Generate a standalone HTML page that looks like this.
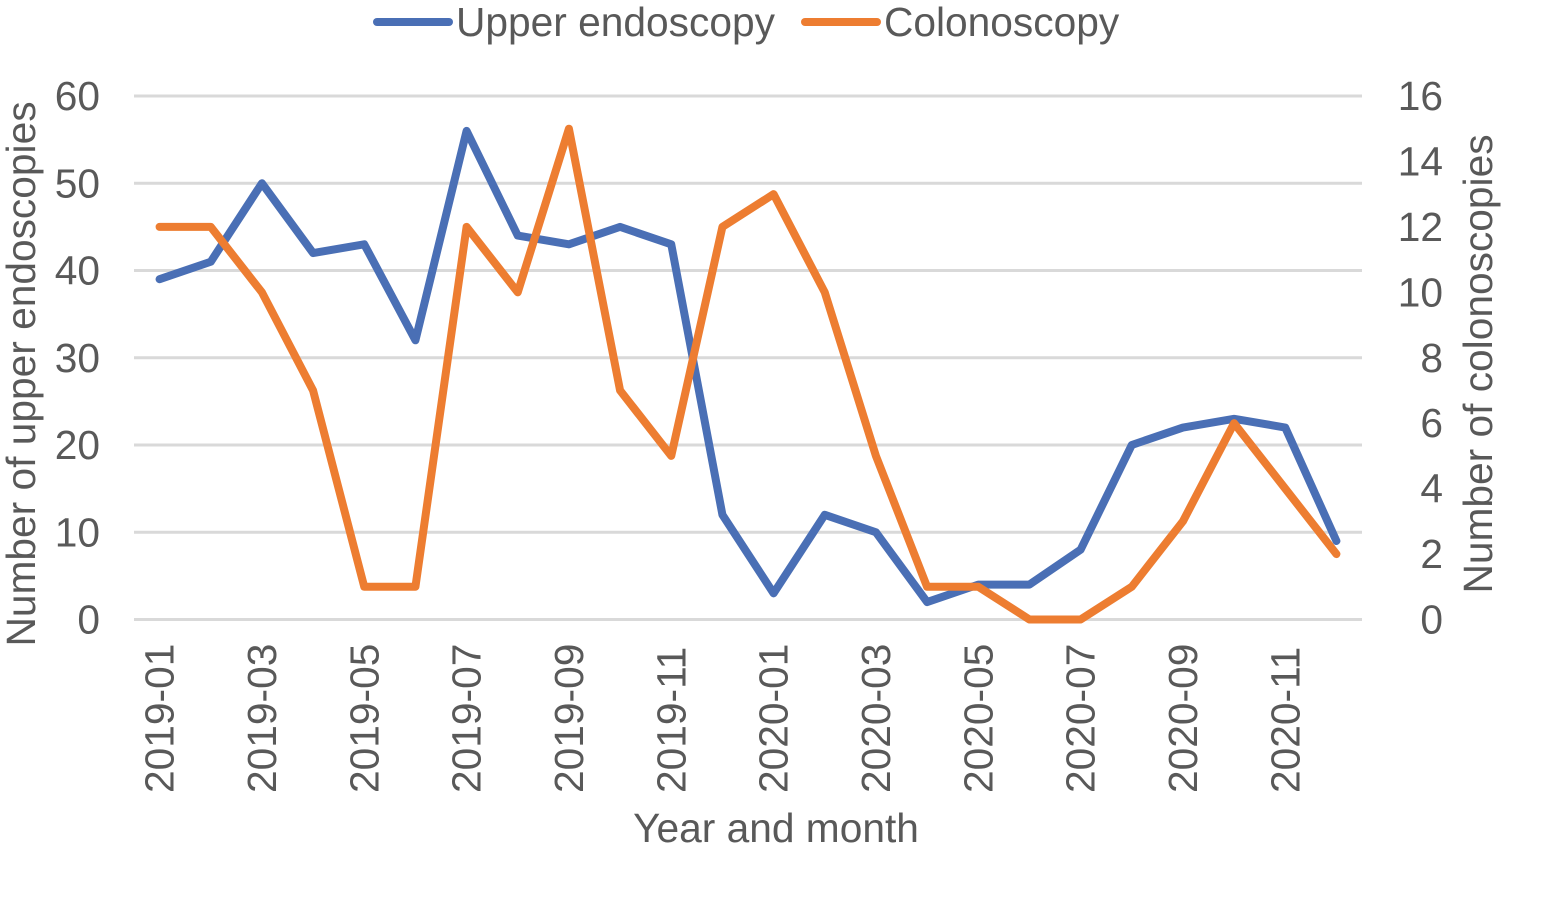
<!DOCTYPE html>
<html lang="en">
<head>
<meta charset="utf-8">
<title>Upper endoscopy and colonoscopy by month</title>
<style>
html,body{margin:0;padding:0;background:#fff;width:1553px;height:903px;overflow:hidden}
svg{display:block}
text{font-family:"Liberation Sans",Arial,sans-serif;fill:#595959;font-size:40.7px}
</style>
</head>
<body>
<svg id="chart" xmlns="http://www.w3.org/2000/svg" width="1553" height="903" viewBox="0 0 1553 903">
  <rect width="1553" height="903" fill="#ffffff"/>
  <g id="grid"></g>
  <g id="left-ticks"></g>
  <g id="right-ticks"></g>
  <g id="x-ticks"></g>
  <g id="series"></g>
  <text transform="translate(35 374) rotate(-90)" text-anchor="middle">Number of upper endoscopies</text>
  <text transform="translate(1492 364) rotate(-90)" text-anchor="middle">Number of colonoscopies</text>
  <text x="776" y="842" text-anchor="middle">Year and month</text>
  <g>
    <g>
      <line x1="377" y1="22" x2="449" y2="22" stroke="#4a6fb5" stroke-width="8" stroke-linecap="round"/>
      <text x="456" y="36">Upper endoscopy</text>
    </g>
    <g>
      <line x1="805" y1="22" x2="877" y2="22" stroke="#ed7d31" stroke-width="8" stroke-linecap="round"/>
      <text x="884" y="36">Colonoscopy</text>
    </g>
  </g>
</svg>
<script>
const months = ["2019-01","2019-02","2019-03","2019-04","2019-05","2019-06","2019-07","2019-08","2019-09","2019-10","2019-11","2019-12","2020-01","2020-02","2020-03","2020-04","2020-05","2020-06","2020-07","2020-08","2020-09","2020-10","2020-11","2020-12"];
const upperEndoscopy = [39,41,50,42,43,32,56,44,43,45,43,12,3,12,10,2,4,4,8,20,22,23,22,9];
const colonoscopy = [12,12,10,7,1,1,12,10,15,7,5,12,13,10,5,1,1,0,0,1,3,6,4,2];
const leftTicks = [0,10,20,30,40,50,60];
const rightTicks = [0,2,4,6,8,10,12,14,16];

const NS = "http://www.w3.org/2000/svg";
const plot = {left:134, right:1362, top:96, bottom:619.5};
const leftMax = leftTicks[leftTicks.length - 1];
const rightMax = rightTicks[rightTicks.length - 1];
const step = (plot.right - plot.left) / months.length;
function xScale(i){ return plot.left + step * (i + 0.5); }
function yLeft(v){ return plot.bottom - (v / leftMax) * (plot.bottom - plot.top); }
function yRight(v){ return plot.bottom - (v / rightMax) * (plot.bottom - plot.top); }
function make(tag, attrs){
  const el = document.createElementNS(NS, tag);
  for (const k in attrs) el.setAttribute(k, attrs[k]);
  return el;
}

const grid = document.getElementById("grid");
leftTicks.forEach(function(t){
  const line = make("line", {x1:plot.left, x2:plot.right, y1:yLeft(t), y2:yLeft(t), stroke:"#d9d9d9", "stroke-width":3});
  
  
  grid.appendChild(line);
});

const leftGroup = document.getElementById("left-ticks");
leftTicks.forEach(function(t){
  const label = make("text", {x:100, y:yLeft(t) + 14, "text-anchor":"end"});
  label.textContent = t;
  
  
  leftGroup.appendChild(label);
});

const rightGroup = document.getElementById("right-ticks");
rightTicks.forEach(function(t){
  const label = make("text", {x:1443, y:yRight(t) + 14, "text-anchor":"end"});
  label.textContent = t;
  
  
  rightGroup.appendChild(label);
});

const xGroup = document.getElementById("x-ticks");
months.forEach(function(m, i){
  if (i % 2 !== 0) return;
  const px = xScale(i) + 14;
  const label = make("text", {transform:"translate(" + px + " 793) rotate(-90)"});
  label.textContent = m;
  
  
  xGroup.appendChild(label);
});

function pathFor(values, yFn){
  return values.map(function(v, i){
    return (i ? "L" : "M") + xScale(i).toFixed(2) + " " + yFn(v).toFixed(2);
  }).join(" ");
}
const seriesGroup = document.getElementById("series");
const upperLine = make("path", {d:pathFor(upperEndoscopy, yLeft), fill:"none", stroke:"#4a6fb5", "stroke-width":8, "stroke-linecap":"round", "stroke-linejoin":"round"});


seriesGroup.appendChild(upperLine);
const colonLine = make("path", {d:pathFor(colonoscopy, yRight), fill:"none", stroke:"#ed7d31", "stroke-width":8, "stroke-linecap":"round", "stroke-linejoin":"round"});


seriesGroup.appendChild(colonLine);
</script>
</body>
</html>
